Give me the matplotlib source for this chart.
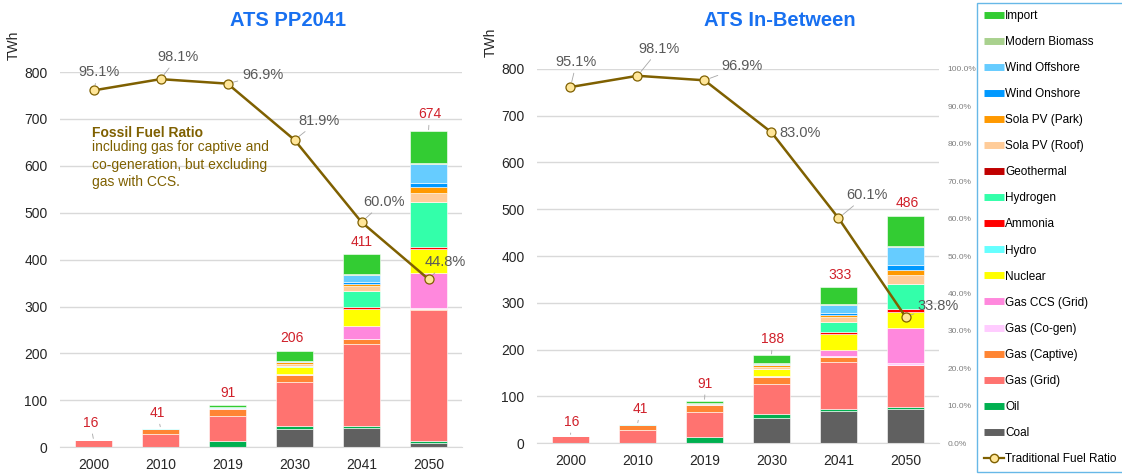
import matplotlib.pyplot as plt
from matplotlib.lines import Line2D
from matplotlib.ticker import FuncFormatter

plt.rcParams['font.family'] = ['Liberation Sans', 'DejaVu Sans']

years = ['2000', '2010', '2019', '2030', '2041', '2050']

# stack order, bottom to top
techs = ['Coal', 'Oil', 'Gas (Grid)', 'Gas (Captive)', 'Gas (Co-gen)', 'Gas CCS (Grid)',
         'Nuclear', 'Hydro', 'Ammonia', 'Hydrogen', 'Geothermal', 'Sola PV (Roof)',
         'Sola PV (Park)', 'Wind Onshore', 'Wind Offshore', 'Modern Biomass', 'Import']
colors = ['#606060', '#00B050', '#FF7370', '#FF8533', '#FFCCFF', '#FF88DD',
          '#FFFF00', '#66FFFF', '#FF0000', '#33FFAA', '#C00000', '#FFCC99',
          '#FF9900', '#0099FF', '#66CCFF', '#A9D18E', '#33CC33']

# ATS PP2041 (TWh)
pp_coal = [0, 0, 0, 38, 42, 10]
pp_oil = [0, 1, 14, 8, 4, 4]
pp_gas_grid = [15, 27, 52, 94, 174, 278]
pp_gas_captive = [0, 12, 16, 15, 10, 2]
pp_gas_cogen = [0, 0, 1, 1, 0, 2]
pp_gas_ccs = [0, 0, 0, 0, 29, 75]
pp_nuclear = [0, 0, 0, 16, 36, 51]
pp_hydro = [1, 1, 2, 1, 0, 0]
pp_ammonia = [0, 0, 0, 0, 5, 4]
pp_hydrogen = [0, 0, 0, 0, 33, 97]
pp_geothermal = [0, 0, 0, 0, 0, 0]
pp_pv_roof = [0, 0, 0, 4, 10, 20]
pp_pv_park = [0, 0, 0, 4, 5, 11]
pp_wind_on = [0, 0, 0, 0, 4, 10]
pp_wind_off = [0, 0, 0, 2, 15, 40]
pp_biomass = [0, 0, 1, 1, 2, 2]
pp_import = [0, 0, 5, 22, 42, 68]
pp_ratio = [95.1, 98.1, 96.9, 81.9, 60.0, 44.8]

# ATS In-Between (TWh)
ib_coal = [0, 0, 0, 55, 70, 74]
ib_oil = [0, 1, 14, 8, 3, 4]
ib_gas_grid = [15, 27, 52, 63, 100, 89]
ib_gas_captive = [0, 12, 16, 16, 12, 0]
ib_gas_cogen = [0, 0, 1, 1, 1, 4]
ib_gas_ccs = [0, 0, 0, 0, 14, 76]
ib_nuclear = [0, 0, 0, 15, 33, 33]
ib_hydro = [1, 1, 2, 1, 0, 0]
ib_ammonia = [0, 0, 0, 0, 5, 7]
ib_hydrogen = [0, 0, 0, 0, 22, 53]
ib_geothermal = [0, 0, 0, 0, 0, 0]
ib_pv_roof = [0, 0, 0, 4, 10, 20]
ib_pv_park = [0, 0, 0, 4, 4, 10]
ib_wind_on = [0, 0, 0, 0, 4, 10]
ib_wind_off = [0, 0, 0, 3, 17, 39]
ib_biomass = [0, 0, 1, 1, 2, 2]
ib_import = [0, 0, 5, 17, 36, 65]
ib_ratio = [95.1, 98.1, 96.9, 83.0, 60.1, 33.8]

pp_series = [pp_coal, pp_oil, pp_gas_grid, pp_gas_captive, pp_gas_cogen, pp_gas_ccs,
             pp_nuclear, pp_hydro, pp_ammonia, pp_hydrogen, pp_geothermal, pp_pv_roof,
             pp_pv_park, pp_wind_on, pp_wind_off, pp_biomass, pp_import]
ib_series = [ib_coal, ib_oil, ib_gas_grid, ib_gas_captive, ib_gas_cogen, ib_gas_ccs,
             ib_nuclear, ib_hydro, ib_ammonia, ib_hydrogen, ib_geothermal, ib_pv_roof,
             ib_pv_park, ib_wind_on, ib_wind_off, ib_biomass, ib_import]

# label placement (pixel offsets from the anchor point) and leader flags
pp_total_off = [(-3, 17, True), (-3, 15, True), (0, 12, False), (-3, 13, False), (0, 12, False), (1, 17, True)]
ib_total_off = [(1, 14, True), (3, 15, True), (1, 17, True), (1, 16, True), (2, 12, False), (2, 13, False)]
pp_ratio_off = [(5, 18), (17, 22), (35, 9), (24, 19), (22, 20), (17, 17)]
ib_ratio_off = [(6, 25), (22, 27), (38, 14), (29, -1), (28, 23), (33, 11)]

line_col = '#7F6000'
red_lbl = '#D0202A'
grey_lbl = '#595959'

fig = plt.figure(figsize=(11.22, 4.75), dpi=100)


def draw_panel(rect, series, ratio, total_off, ratio_off, show_right):
    ax = fig.add_axes(rect)
    x = list(range(len(years)))
    bottom = [0] * len(years)
    for vals, c in zip(series, colors):
        ax.bar(x, vals, bottom=bottom, width=0.56, color=c, edgecolor='white', linewidth=0.4)
        bottom = [b + v for b, v in zip(bottom, vals)]
    totals = bottom

    ax.set_xlim(-0.5, len(years) - 0.5)
    ax.set_ylim(0, 800)
    ax.set_yticks(range(0, 801, 100))
    ax.set_xticks(x)
    ax.set_xticklabels(years)
    ax.tick_params(length=0, labelsize=10, colors='#262626')
    ax.tick_params(axis='y', pad=9)
    ax.tick_params(axis='x', pad=8)
    ax.yaxis.grid(True, color='#D9D9D9', lw=1)
    ax.set_axisbelow(True)
    for s in ['top', 'right', 'left']:
        ax.spines[s].set_visible(False)
    ax.spines['bottom'].set_color('#D9D9D9')
    ax.text(-0.115, 1.07, 'TWh', rotation=90, transform=ax.transAxes,
            ha='center', va='center', fontsize=10, color='#262626')

    for i, t in enumerate(totals):
        dx, dy, lead = total_off[i]
        ax.annotate(f'{t:.0f}', xy=(i, t), xytext=(dx, dy), textcoords='offset pixels',
                    ha='center', va='center', fontsize=10, color=red_lbl,
                    arrowprops=dict(arrowstyle='-', color='#A6A6A6', lw=0.6, shrinkA=1, shrinkB=1) if lead else None)

    ax2 = ax.twinx()
    ax2.set_ylim(0, 100)
    for s in ax2.spines.values():
        s.set_visible(False)
    if show_right:
        ax2.set_yticks(range(0, 101, 10))
        ax2.yaxis.set_major_formatter(FuncFormatter(lambda v, p: f'{v:.1f}%'))
        ax2.tick_params(length=0, labelsize=6, colors='#7F7F7F', pad=6)
    else:
        ax2.set_yticks([])

    ax2.plot(x, ratio, color=line_col, lw=1.8, marker='o', ms=6.5,
             mfc='#FFE699', mec=line_col, mew=0.9, zorder=5, clip_on=False)
    for i, r in enumerate(ratio):
        dx, dy = ratio_off[i]
        ax2.annotate(f'{r:.1f}%', xy=(i, r), xytext=(dx, dy), textcoords='offset pixels',
                     ha='center', va='center', fontsize=10.5, color=grey_lbl,
                     arrowprops=dict(arrowstyle='-', color='#A6A6A6', lw=0.6, shrinkA=1, shrinkB=4))
    return ax


ax_l = draw_panel([0.0535, 0.0583, 0.3583, 0.7901], pp_series, pp_ratio, pp_total_off, pp_ratio_off, False)
ax_r = draw_panel([0.4786, 0.0667, 0.3583, 0.7887], ib_series, ib_ratio, ib_total_off, ib_ratio_off, True)

title_col = '#1870F0'
fig.text(0.2567, 0.956, 'ATS PP2041', ha='center', va='center', fontsize=14.5,
         fontweight='bold', color=title_col)
fig.text(0.6952, 0.956, 'ATS In-Between', ha='center', va='center', fontsize=14.5,
         fontweight='bold', color=title_col)

# fossil fuel ratio note
ax_l.text(0.08, 0.8375, 'Fossil Fuel Ratio', transform=ax_l.transAxes, ha='left', va='center',
          fontsize=10, fontweight='bold', color=line_col)
ax_l.text(0.08, 0.753, 'including gas for captive and\nco-generation, but excluding\ngas with CCS.',
          transform=ax_l.transAxes, ha='left', va='center', fontsize=10, color=line_col,
          linespacing=1.32)

# legend (top to bottom is reverse of stack order)
handles = [Line2D([0], [0], color=c, lw=5, solid_capstyle='butt') for c in colors[::-1]]
labels = techs[::-1]
handles.append(Line2D([0], [0], color=line_col, lw=1.6, marker='o', ms=6,
                      mfc='#FFE699', mec=line_col))
labels.append('Traditional Fuel Ratio')
leg = fig.legend(handles, labels, loc='upper left', bbox_to_anchor=(977 / 1122, 472 / 475),
                 fontsize=8.5, frameon=True, fancybox=False, handlelength=1.7,
                 handletextpad=0.1, labelspacing=1.19, borderpad=0.6, borderaxespad=0)
leg.get_frame().set_edgecolor('#41A7E1')
leg.get_frame().set_linewidth(1.0)

fig.savefig('out.png', dpi=100)
